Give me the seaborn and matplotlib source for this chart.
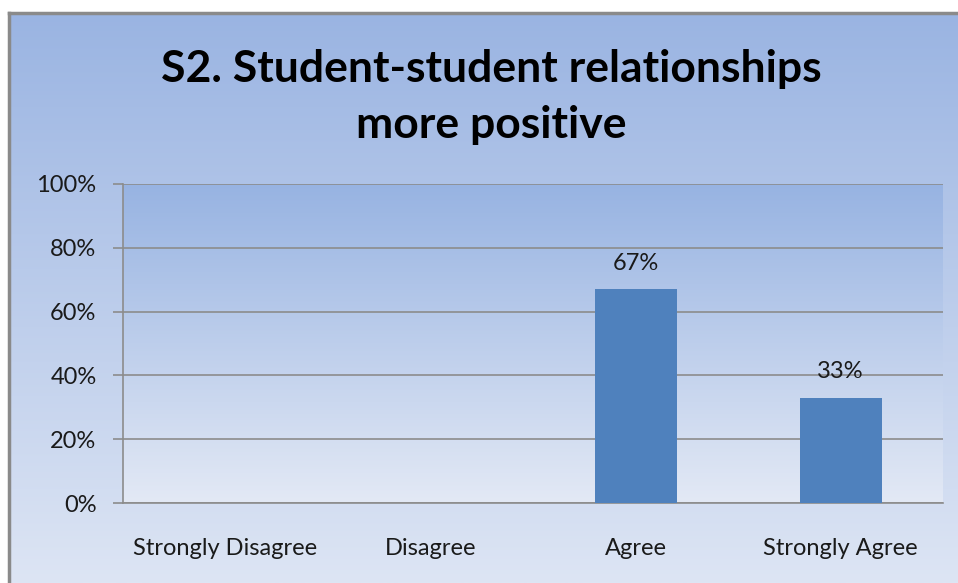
import numpy as np
import pandas as pd
import matplotlib
matplotlib.use("Agg")
import matplotlib.pyplot as plt
import seaborn as sns
from matplotlib.colors import LinearSegmentedColormap

categories = ["Strongly Disagree", "Disagree", "Agree", "Strongly Agree"]
values = [0, 0, 67, 33]
labels = ["", "", "67%", "33%"]
yticks = [0, 20, 40, 60, 80, 100]
ytick_labels = ["0%", "20%", "40%", "60%", "80%", "100%"]
title = "S2. Student-student relationships\nmore positive"

sns.set_theme(style="white")
plt.rcParams["font.family"] = ["Lato", "DejaVu Sans"]

W, H = 958, 583
fig = plt.figure(figsize=(W / 100, H / 100), dpi=100)
fig.patch.set_facecolor("white")

# outer chart area with gradient
bg = fig.add_axes([9 / W, 0, 1 - 9 / W, (H - 13) / H], zorder=0)
cmap_bg = LinearSegmentedColormap.from_list("bg", ["#9AB4E2", "#DDE5F4"])
bg.imshow(np.linspace(0, 1, 256).reshape(-1, 1), aspect="auto", cmap=cmap_bg,
          extent=[0, 1, 0, 1], origin="upper")
bg.set_xlim(0, 1)
bg.set_ylim(0, 1)
bg.set_xticks([])
bg.set_yticks([])
for s in ["right", "bottom"]:
    bg.spines[s].set_visible(False)
for s in ["left", "top"]:
    bg.spines[s].set_color("#8A8A8A")
    bg.spines[s].set_linewidth(2.5)

left, right, top, bottom = 123, 943, 184, 503
ax = fig.add_axes([left / W, (H - bottom) / H, (right - left) / W, (bottom - top) / H], zorder=1)

df = pd.DataFrame({"category": categories, "value": values})
sns.barplot(data=df, x="category", y="value", order=categories, color="#4F81BD",
            width=0.4, saturation=1, ax=ax, zorder=3, linewidth=0, edgecolor="none")

cmap_pl = LinearSegmentedColormap.from_list("pl", ["#97B3E2", "#E3E9F5"])
ax.imshow(np.linspace(0, 1, 256).reshape(-1, 1), aspect="auto", cmap=cmap_pl,
          extent=[-0.5, 3.5, 0, 100], origin="upper", zorder=0)

ax.set_xlim(-0.5, 3.5)
ax.set_ylim(0, 100)
ax.set_yticks(yticks)
ax.set_yticklabels(ytick_labels)
ax.yaxis.grid(True, color="#8C8C8C", linewidth=1.2, zorder=1)
ax.set_axisbelow(False)
for line in ax.get_ygridlines():
    line.set_zorder(1)

ax.set_xticks(range(len(categories)))
ax.set_xticklabels(categories)
ax.set_xticks([-0.5, 0.5, 1.5, 2.5, 3.5], minor=True)
ax.tick_params(axis="x", which="major", length=0, pad=25, labelsize=17, labelcolor="#1A1A1A")
ax.tick_params(axis="x", which="minor", length=7, width=1.2, color="#8C8C8C", direction="out")
ax.tick_params(axis="y", length=7, width=1.2, color="#8C8C8C", direction="out",
               labelsize=17, labelcolor="#1A1A1A", pad=12, left=True)
ax.set_xlabel("")
ax.set_ylabel("")
for s in ["top", "right"]:
    ax.spines[s].set_visible(False)
for s in ["left", "bottom"]:
    ax.spines[s].set_color("#8C8C8C")
    ax.spines[s].set_linewidth(1.2)

for i, (v, lab) in enumerate(zip(values, labels)):
    if lab:
        ax.annotate(lab, (i, v), xytext=(0, 11), textcoords="offset points",
                    ha="center", va="bottom", fontsize=17, color="#1A1A1A", zorder=4)

fig.text(491 / W, 1 - 97 / H, title, ha="center", va="center", fontsize=32,
         fontweight="bold", color="black", linespacing=1.5)

fig.savefig("out.png", dpi=100)
